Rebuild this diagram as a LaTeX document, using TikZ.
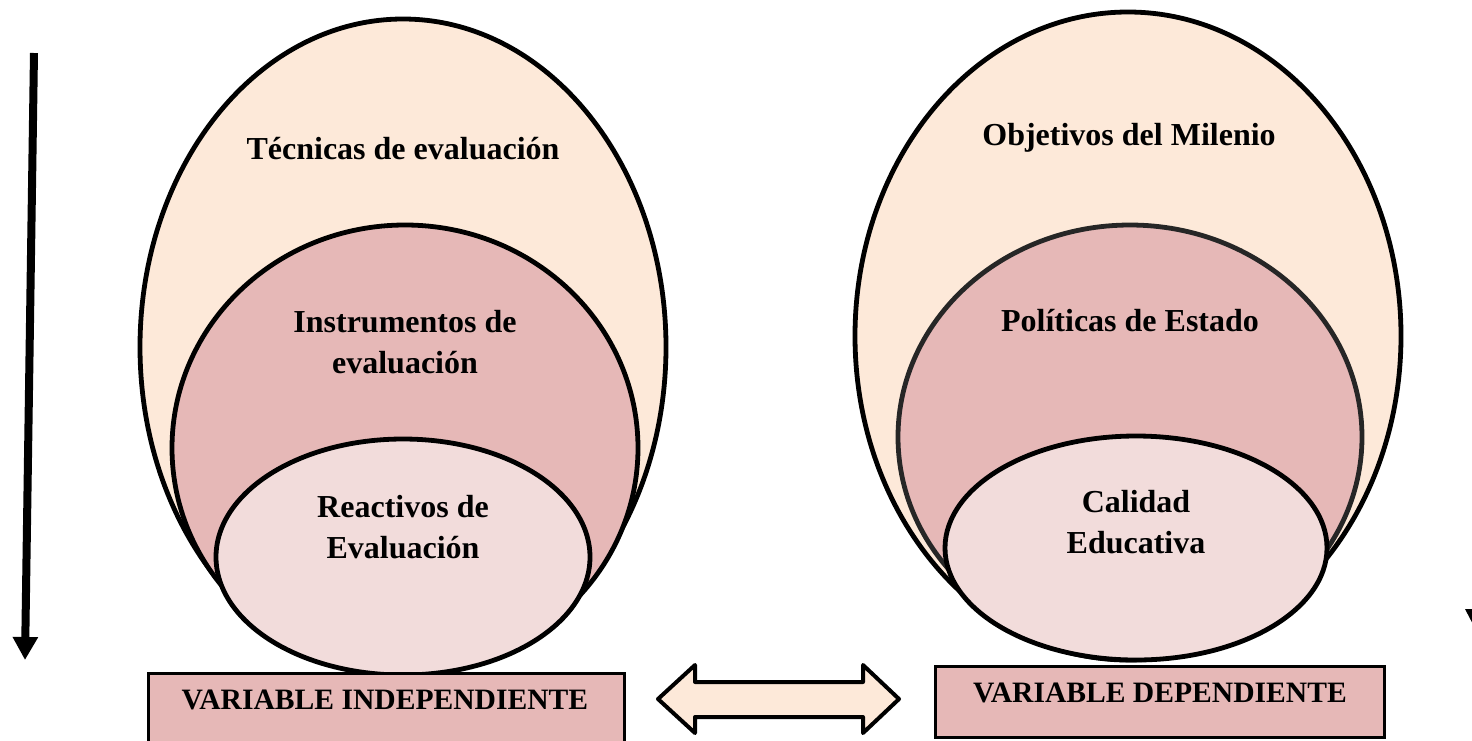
\documentclass[tikz,border=0pt]{standalone}
\usepackage{fontspec}
\setmainfont{Liberation Serif}
\usetikzlibrary{shapes.geometric,arrows.meta}
\definecolor{peach}{HTML}{FDE9D9}
\definecolor{rose}{HTML}{E6B8B7}
\definecolor{pale}{HTML}{F2DCDB}
\tikzset{
  oval/.style={ellipse, draw=black, line width=4.8pt, inner sep=0pt},
  lbl/.style={font=\fontsize{32}{41}\selectfont\bfseries, align=center, inner sep=0pt},
  varbox/.style={draw=black, line width=2.5pt, fill=rose, anchor=north west, inner sep=0pt},
  vlbl/.style={font=\fontsize{29.6}{35}\selectfont\bfseries, inner sep=0pt}
}
\begin{document}
\begin{tikzpicture}[x=1pt,y=-1pt]
\useasboundingbox (0,0) rectangle (1472,740);
% left group
\node[oval, fill=peach, minimum width=526pt, minimum height=656pt] (L1) at (403,347) {};
\node[oval, fill=rose, minimum width=466pt, minimum height=446pt] (L2) at (405,448) {};
\node[oval, fill=pale, minimum width=374pt, minimum height=236pt] (L3) at (403,557) {};
\node[lbl] (t1) at (403,149) {Técnicas de evaluación};
\node[lbl] (t2) at (405,342) {Instrumentos de\\evaluación};
\node[lbl] (t3) at (403,527) {Reactivos de\\Evaluación};
% right group
\node[oval, fill=peach, minimum width=546pt, minimum height=648pt] (R1) at (1128,336) {};
\node[oval, fill=rose, minimum width=464pt, minimum height=424pt, draw=black!85] (R2) at (1130,437) {};
\node[oval, fill=pale, minimum width=382pt, minimum height=224pt] (R3) at (1136,548) {};
\node[lbl] (u1) at (1129,138) {Objetivos del Milenio};
\node[lbl] (u2) at (1130,321) {Políticas de Estado};
\node[lbl] (u3) at (1136,522) {Calidad\\Educativa};
% boxes
\node[varbox, minimum width=476pt, minimum height=90pt] (VI) at (147,672) {};
\node[vlbl] (VIt) at (385,700) {VARIABLE INDEPENDIENTE};
\node[varbox, minimum width=449pt, minimum height=71pt] (VD) at (934,665) {};
\node[vlbl] (VDt) at (1160,693) {VARIABLE DEPENDIENTE};
% double arrow
\draw[line width=4pt, line join=round, fill=peach]
  (658,699) -- (695,665) -- (695,682) -- (863,682) -- (863,665) -- (899,699)
  -- (863,733) -- (863,717) -- (695,717) -- (695,733) -- cycle;
% left arrow
\coordinate (aS) at (34,53);
\coordinate (aE) at (25,660);
\draw[line width=8pt, -{Triangle[width=24pt,length=23pt]}] (aS) -- (aE);
% partial arrowhead at right edge
\fill (1465,609) -- (1489,609) -- (1477,632) -- cycle;
\end{tikzpicture}
\end{document}
